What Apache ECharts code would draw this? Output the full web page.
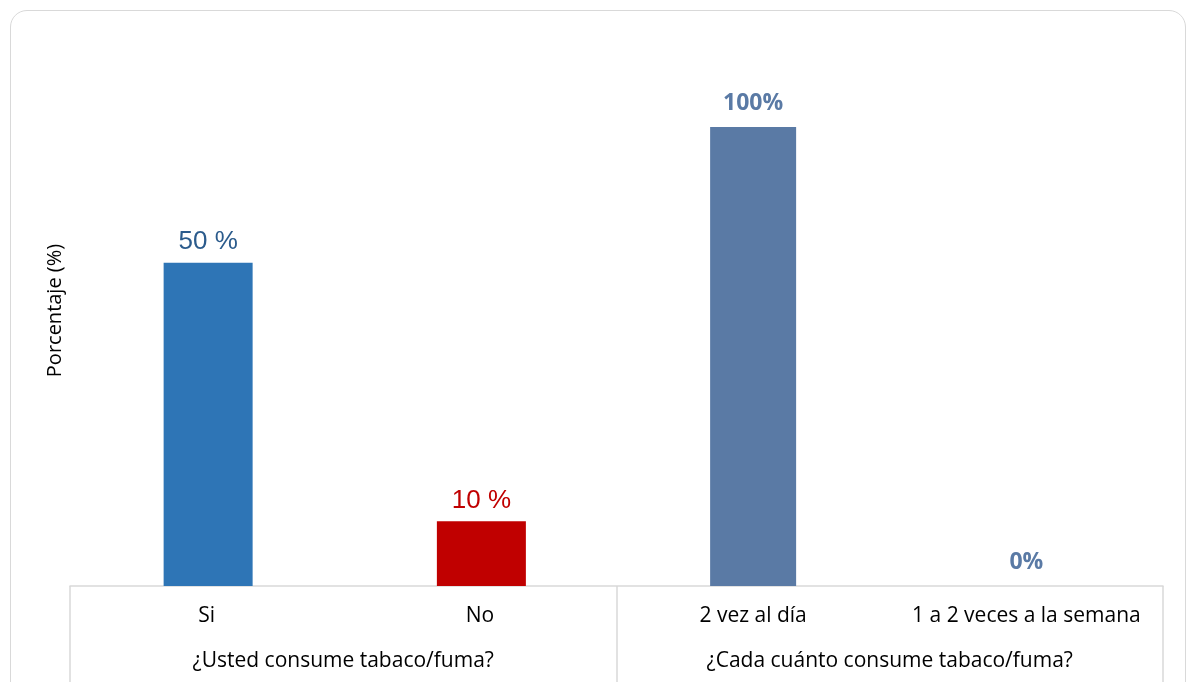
<!DOCTYPE html>
<html>
<head>
<meta charset="utf-8">
<script src="https://cdn.jsdelivr.net/npm/echarts@6/dist/echarts.min.js"></script>
<style>
  html, body { margin: 0; padding: 0; background: #ffffff; overflow: hidden; }
  #frame {
    position: absolute; left: 10px; top: 10px; width: 1176px; height: 690px;
    border: 1.5px solid #D9D9D9; border-radius: 17px; box-sizing: border-box;
  }
  #chart { position: absolute; left: 0; top: 0; width: 1186px; height: 682px; }
</style>
</head>
<body>
<div id="frame"></div>
<div id="chart"></div>
<script>
// Answers (categories) and the question each pair belongs to
const categories = ['Si', 'No', '2 vez al día', '1 a 2 veces a la semana'];
const groups = ['¿Usted consume tabaco/fuma?', '¿Cada cuánto consume tabaco/fuma?'];

// Percentages for each question
const consumeValues = [50, 10, null, null];      // ¿Usted consume tabaco/fuma?
const frequencyValues = [null, null, 100, 0];    // ¿Cada cuánto consume tabaco/fuma?

const chart = echarts.init(document.getElementById('chart'), null, { renderer: 'canvas' });

const catFont = '"Open Sans", "DejaVu Sans", sans-serif';

chart.setOption({
  backgroundColor: 'transparent',
  animation: false,
  grid: { left: 70, right: 23, top: 127, bottom: 96 },
  xAxis: [
    {
      type: 'category',
      data: categories,
      position: 'bottom',
      axisLine: { show: true, lineStyle: { color: '#D9D9D9', width: 1.5 } },
      axisTick: { show: false },
      axisLabel: { color: '#000000', fontFamily: catFont, fontSize: 21, margin: 20, interval: 0 }
    },
    {
      type: 'category',
      data: groups,
      position: 'bottom',
      axisLine: { show: false },
      axisTick: { show: true, length: 110, lineStyle: { color: '#D9D9D9', width: 1.5 } },
      axisLabel: { color: '#000000', fontFamily: catFont, fontSize: 21, margin: 65, interval: 0 }
    }
  ],
  yAxis: [
    {
      type: 'value', min: 0, max: 71,
      name: 'Porcentaje (%)',
      nameLocation: 'middle', nameGap: 5, nameRotate: 90,
      nameTextStyle: { color: '#000000', fontFamily: catFont, fontSize: 20, padding: [0, 0, 0, 92] },
      axisLine: { show: false }, axisTick: { show: false },
      axisLabel: { show: false }, splitLine: { show: false }
    },
    {
      type: 'value', min: 0, max: 100,
      axisLine: { show: false }, axisTick: { show: false },
      axisLabel: { show: false }, splitLine: { show: false }
    }
  ],
  series: [
    {
      type: 'bar',
      xAxisIndex: 0, yAxisIndex: 0,
      barWidth: 89,
      barGap: '-100%',
      data: consumeValues.map((v, i) => v === null ? '-' : {
        value: v,
        itemStyle: { color: i === 0 ? '#2E75B6' : '#C00000' },
        label: { color: i === 0 ? '#2B5B8C' : '#C00000' }
      }),
      label: {
        show: true, position: 'top', distance: 8,
        fontFamily: '"Liberation Sans", Arial, sans-serif', fontSize: 26,
        formatter: p => p.value + ' %'
      }
    },
    {
      type: 'bar',
      xAxisIndex: 0, yAxisIndex: 1,
      barWidth: 86,
      barGap: '-100%',
      itemStyle: { color: '#5A7AA5' },
      data: frequencyValues.map(v => v === null ? '-' : v),
      label: {
        show: true, position: 'top', distance: 12,
        color: '#5A7AA5', fontWeight: 'bold',
        fontFamily: catFont, fontSize: 23,
        formatter: p => p.value + '%'
      }
    }
  ]
});
</script>
</body>
</html>
